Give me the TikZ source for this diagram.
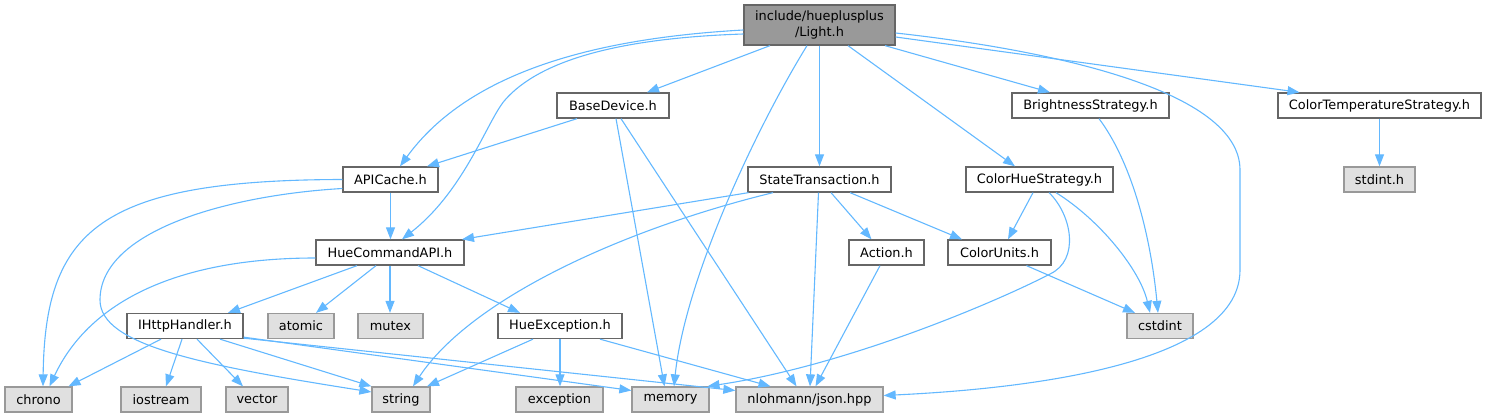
\documentclass[tikz,border=0pt]{standalone}
\usepackage{fontspec}
\setmainfont{DejaVu Sans}
\usetikzlibrary{arrows.meta}
\definecolor{edgeblue}{HTML}{63B8FF}
\definecolor{bordergray}{HTML}{666666}
\definecolor{extborder}{HTML}{999999}
\definecolor{extfill}{HTML}{E0E0E0}
\definecolor{mainfill}{HTML}{999999}
\begin{document}
\begin{tikzpicture}[x=1pt,y=-1pt,
  hdr/.style={draw=bordergray, line width=1.3pt, fill=white, minimum height=25pt, inner sep=0pt, font=\fontsize{12.9}{15}\selectfont, text=black},
  sysh/.style={hdr, draw=extborder, fill=extfill},
  mainh/.style={hdr, fill=mainfill, minimum height=40pt, align=center, font=\fontsize{12.9}{16}\selectfont},
  dep/.style={draw=edgeblue, line width=1.1pt, -{Triangle[length=12pt,width=9pt]}}
]
\useasboundingbox (0,0) rectangle (1487,417);

\node[mainh, minimum width=151pt] (light) at (819.5,25) {include/hueplusplus\\/Light.h};
\node[hdr, minimum width=112pt] (bd) at (613,105.5) {BaseDevice.h};
\node[hdr, minimum width=157pt] (bs) at (1090.5,105.5) {BrightnessStrategy.h};
\node[hdr, minimum width=203pt] (cts) at (1379.5,105.5) {ColorTemperatureStrategy.h};
\node[hdr, minimum width=95pt] (api) at (390.5,179.5) {APICache.h};
\node[hdr, minimum width=143pt] (st) at (819.5,179.5) {StateTransaction.h};
\node[hdr, minimum width=147pt] (chs) at (1039.5,179.5) {ColorHueStrategy.h};
\node[sysh, minimum width=71pt] (stdint) at (1379.5,179.5) {stdint.h};
\node[hdr, minimum width=148pt] (hc) at (390,252.5) {HueCommandAPI.h};
\node[hdr, minimum width=75pt] (act) at (886.5,252.5) {Action.h};
\node[hdr, minimum width=103pt] (cu) at (999.5,252.5) {ColorUnits.h};
\node[hdr, minimum width=116pt] (ih) at (185,326) {IHttpHandler.h};
\node[sysh, minimum width=66pt] (atomic) at (301,326) {atomic};
\node[sysh, minimum width=65pt] (mutex) at (390.5,326) {mutex};
\node[hdr, minimum width=124pt] (he) at (560,326) {HueException.h};
\node[sysh, minimum width=66pt] (cstdint) at (1160,326) {cstdint};
\node[sysh, minimum width=67pt] (chrono) at (38.5,399.5) {chrono};
\node[sysh, minimum width=80pt] (iostream) at (161,399.5) {iostream};
\node[sysh, minimum width=62pt] (vector) at (257,399.5) {vector};
\node[sysh, minimum width=58pt] (string) at (401,399.5) {string};
\node[sysh, minimum width=87pt] (exception) at (559.5,399.5) {exception};
\node[sysh, minimum width=77pt] (memory) at (670.5,399.5) {memory};
\node[sysh, minimum width=147pt] (json) at (809.5,399.5) {nlohmann/json.hpp};

\draw[dep] ([yshift=-5pt]light.west) .. controls (600,38) and (470,70) .. ([xshift=9.5pt]api.north);
\draw[dep] ([yshift=-9pt]light.west) .. controls (620,38) and (540,60) .. (505,100) .. controls (487.5,120) and (465,190) .. ([xshift=12pt]hc.north);
\draw[dep] ([xshift=-49.5pt]light.south) -- ([xshift=34pt]bd.north);
\draw[dep] ([xshift=-12.5pt]light.south) .. controls (755,130) and (685,280) .. ([xshift=3.5pt]memory.north);
\draw[dep] (light.south) -- (st.north);
\draw[dep] ([xshift=28.5pt]light.south) -- ([xshift=-24.5pt]chs.north);
\draw[dep] ([xshift=65.5pt]light.south) -- ([xshift=-40.5pt]bs.north);
\draw[dep] ([yshift=-12pt]light.east) -- ([xshift=-80pt]cts.north);
\draw[dep] ([yshift=-8pt]light.east) .. controls (1050,50) and (1240,90) .. (1240,170) -- (1240,270) .. controls (1240,370) and (1000,390) .. ([yshift=4pt]json.east);

\draw[dep] ([xshift=-36pt]bd.south) -- ([xshift=36.5pt]api.north);
\draw[dep] ([xshift=3pt]bd.south) -- ([xshift=-6pt]memory.north);
\draw[dep] ([xshift=8pt]bd.south) -- ([xshift=-13pt]json.north);

\draw[dep] (api.south) -- (api.south |- hc.north);
\draw[dep] (api.west) .. controls (100,180) and (45,230) .. ([xshift=4.5pt]chrono.north);
\draw[dep] ([yshift=-9pt]api.west) .. controls (230,195) and (100,230) .. (100,300) .. controls (100,345) and (200,365) .. ([yshift=7.5pt]string.west);

\draw[dep] ([xshift=-71pt]st.south) -- ([xshift=72pt]hc.north);
\draw[dep] ([xshift=-46.5pt]st.south) .. controls (620,230) and (470,300) .. ([xshift=12pt]string.north);
\draw[dep] ([xshift=-1pt]st.south) -- ([xshift=0.5pt]json.north);
\draw[dep] ([xshift=11.5pt]st.south) -- ([xshift=-15pt]act.north);
\draw[dep] ([xshift=30.5pt]st.south) -- ([xshift=-37.5pt]cu.north);

\draw[dep] ([xshift=-6.5pt]chs.south) -- ([xshift=8.5pt]cu.north);
\draw[dep] ([xshift=16.5pt]chs.south) .. controls (1100,220) and (1140,270) .. ([xshift=-10pt]cstdint.north);
\draw[dep] ([xshift=9.5pt]chs.south) .. controls (1072,215) and (1080,260) .. (1050,274) .. controls (1000,300) and (850,365) .. ([xshift=37pt]memory.north);

\draw[dep] ([xshift=8.5pt]bs.south) .. controls (1130,160) and (1150,230) .. ([xshift=-2pt]cstdint.north);
\draw[dep] (cts.south) -- (stdint.north);
\draw[dep] ([xshift=27pt]cu.south) -- ([xshift=-25pt]cstdint.north);
\draw[dep] ([xshift=-6.5pt]act.south) -- ([xshift=6pt]json.north);

\draw[dep] ([yshift=-5.5pt]hc.west) .. controls (180,258) and (90,300) .. ([xshift=11pt]chrono.north);
\draw[dep] ([xshift=-33pt]hc.south) -- ([xshift=43pt]ih.north);
\draw[dep] ([xshift=-14pt]hc.south) -- ([xshift=15pt]atomic.north);
\draw[dep] (hc.south) -- (hc.south |- mutex.north);
\draw[dep] ([xshift=28pt]hc.south) -- ([xshift=-40pt]he.north);

\draw[dep] ([xshift=-24pt]ih.south) -- ([xshift=30pt]chrono.north);
\draw[dep] ([xshift=-3pt]ih.south) -- ([xshift=5pt]iostream.north);
\draw[dep] ([xshift=12pt]ih.south) -- ([xshift=-14pt]vector.north);
\draw[dep] ([xshift=35pt]ih.south) -- (string.north west);
\draw[dep] ([yshift=2pt]ih.south east) -- ([yshift=9pt]memory.west);
\draw[dep] ([yshift=1pt]ih.south east) -- ([yshift=9pt]json.west);

\draw[dep] ([xshift=-27pt]he.south) -- ([xshift=26pt]string.north);
\draw[dep] (he.south) -- (he.south |- exception.north);
\draw[dep] ([xshift=40pt]he.south) -- ([xshift=-39pt]json.north);
\end{tikzpicture}
\end{document}
